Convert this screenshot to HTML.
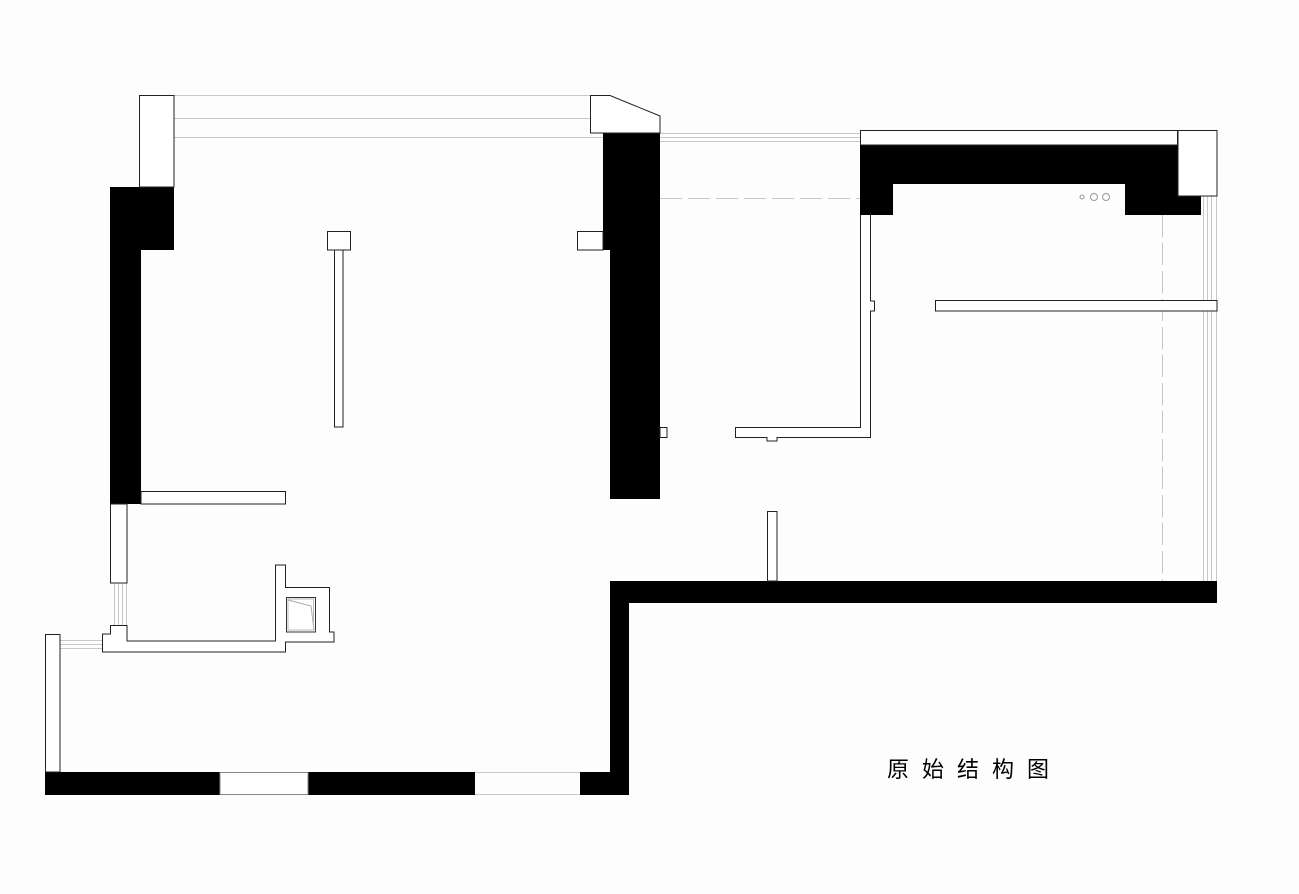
<!DOCTYPE html>
<html><head><meta charset="utf-8"><style>
html,body{margin:0;padding:0;background:#fdfdfd;}
svg{display:block;}
</style></head><body>
<svg width="1299" height="894" viewBox="0 0 1299 894" xmlns="http://www.w3.org/2000/svg">
<rect width="1299" height="894" fill="#fdfdfd"/>
<g fill="none" stroke="#c8c8c8" stroke-width="1">
<line x1="174" y1="95.5" x2="590" y2="95.5"/>
<line x1="174" y1="118.5" x2="590" y2="118.5"/>
<line x1="174" y1="137.5" x2="603" y2="137.5"/>
<line x1="660" y1="133.5" x2="860" y2="133.5"/>
<line x1="660" y1="137.5" x2="860" y2="137.5"/>
<line x1="660" y1="141.5" x2="860" y2="141.5"/>
<line x1="660" y1="198.5" x2="860" y2="198.5" stroke-dasharray="22,6"/>
<line x1="1162.5" y1="215" x2="1162.5" y2="581" stroke-dasharray="22,6"/>
<line x1="1203.5" y1="196" x2="1203.5" y2="581"/>
<line x1="1207.5" y1="196" x2="1207.5" y2="581"/>
<line x1="1211.5" y1="196" x2="1211.5" y2="581"/>
<line x1="1216.5" y1="196" x2="1216.5" y2="581"/>
<line x1="114.5" y1="583" x2="114.5" y2="625"/>
<line x1="118.5" y1="583" x2="118.5" y2="625"/>
<line x1="122.5" y1="583" x2="122.5" y2="625"/>
<line x1="126.5" y1="583" x2="126.5" y2="625"/>
<line x1="60" y1="640.5" x2="102" y2="640.5"/>
<line x1="60" y1="644.5" x2="102" y2="644.5"/>
<line x1="60" y1="648.5" x2="102" y2="648.5"/>
<line x1="475" y1="772.5" x2="580" y2="772.5"/>
<line x1="475" y1="794.5" x2="580" y2="794.5"/>
</g>
<g fill="#000">
<rect x="110" y="187" width="64" height="63"/>
<rect x="110" y="250" width="31" height="254"/>
<rect x="603" y="133" width="57" height="117"/>
<rect x="610" y="250" width="50" height="249"/>
<rect x="860" y="145" width="341" height="39"/>
<rect x="860" y="184" width="33" height="31"/>
<rect x="1125" y="184" width="76" height="31"/>
<rect x="610" y="581" width="607" height="22"/>
<rect x="610" y="603" width="19" height="192"/>
<rect x="45" y="772" width="175" height="23"/>
<rect x="308" y="772" width="167" height="23"/>
<rect x="580" y="772" width="49" height="23"/>
</g>
<g fill="#fff" stroke="#222" stroke-width="1">
<rect x="139.5" y="95.5" width="34.5" height="91.5"/>
<path d="M590.5 95.5 H610 L660 116 V133 H590.5 Z"/>
<rect x="577.5" y="231.5" width="25.5" height="18.5"/>
<rect x="327.5" y="231.5" width="23" height="18.5"/>
<rect x="334.5" y="250" width="8.5" height="177"/>
<rect x="860.5" y="130.5" width="317" height="14.5"/>
<rect x="1178" y="130.5" width="39" height="65.5"/>
<path d="M860.5 215 V427.5 H735.5 V437.5 H767 V441 H777 V437.5 H870.5 V311 H874.5 V301 H870.5 V215"/>
<rect x="660" y="427.5" width="7" height="10"/>
<rect x="935.5" y="300.5" width="281.5" height="10.5"/>
<rect x="767.5" y="511.5" width="9.5" height="69.5"/>
<rect x="141" y="491.5" width="144.5" height="12.5"/>
<rect x="110.5" y="504" width="16.5" height="79"/>
<path d="M110.5 625.5 H127 V641 H275.5 V565 H285.5 V587.5 H329.5 V632 H334 V642 H285.5 V652 H102.5 V634 H110.5 Z"/>
<rect x="286.5" y="597.5" width="29" height="34.5" stroke="#333"/>
<rect x="45.5" y="634.5" width="14.5" height="137.5"/>
<rect x="220" y="772.5" width="88" height="22" stroke="#888"/>
</g>
<path d="M288 600 L311 606 L314 630" fill="none" stroke="#aaa"/>
<rect x="288" y="599" width="25.5" height="31" fill="none" stroke="#bbb"/>
<g fill="none" stroke="#999">
<circle cx="1082" cy="197" r="2"/>
<circle cx="1094" cy="197" r="3.5"/>
<circle cx="1106" cy="197" r="3.5"/>
</g>
<text x="887" y="777" font-family="'Liberation Sans','Noto Sans CJK SC',sans-serif" font-size="22" letter-spacing="13" fill="#000">原始结构图</text>
</svg>
</body></html>
